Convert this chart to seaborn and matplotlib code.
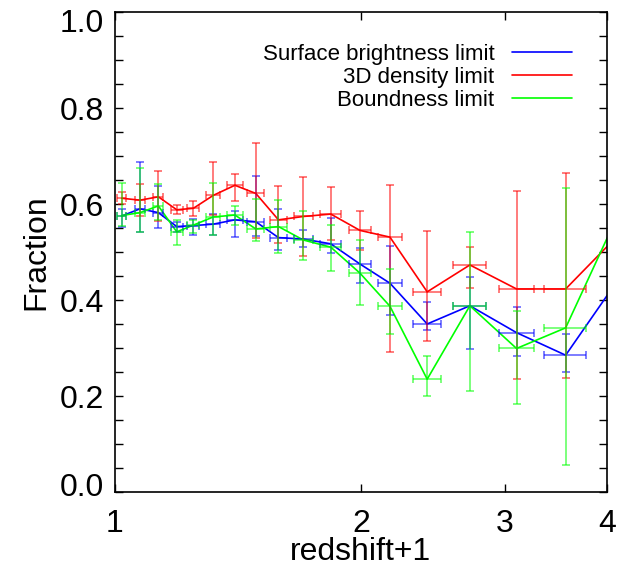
import numpy as np
import pandas as pd
import matplotlib
matplotlib.use("Agg")
import matplotlib.pyplot as plt
import matplotlib.transforms as mtransforms
from matplotlib.ticker import FixedLocator, NullLocator, MultipleLocator
import seaborn as sns

# ---- data ----
zplus1 = [1.019, 1.073, 1.130, 1.190, 1.247, 1.319, 1.402, 1.487, 1.585, 1.700,
          1.837, 1.994, 2.170, 2.410, 2.718, 3.100, 3.560, 4.300]
zplus1_err = [0.012, 0.015, 0.016, 0.020, 0.021, 0.026, 0.032, 0.035, 0.039, 0.046,
              0.053, 0.061, 0.073, 0.097, 0.123, 0.152, 0.206, 0.250]

sb_frac = [0.575, 0.590, 0.582, 0.553, 0.555, 0.558, 0.567, 0.563, 0.530, 0.527,
           0.517, 0.475, 0.435, 0.350, 0.388, 0.332, 0.285, 0.486]
sb_lo = [0.552, 0.541, 0.549, 0.542, 0.535, 0.535, 0.532, 0.533, 0.505, 0.511,
         0.497, 0.435, 0.369, 0.338, 0.297, 0.283, 0.251, 0.440]
sb_hi = [0.590, 0.688, 0.637, 0.563, 0.568, 0.580, 0.585, 0.658, 0.590, 0.546,
         0.570, 0.508, 0.513, 0.395, 0.447, 0.386, 0.330, 0.530]

d3_frac = [0.612, 0.608, 0.615, 0.588, 0.591, 0.618, 0.639, 0.622, 0.567, 0.574,
           0.579, 0.545, 0.531, 0.417, 0.473, 0.423, 0.423, 0.566]
d3_lo = [0.600, 0.574, 0.565, 0.580, 0.576, 0.577, 0.607, 0.530, 0.519, 0.492,
         0.524, 0.505, 0.292, 0.315, 0.424, 0.235, 0.238, 0.500]
d3_hi = [0.625, 0.642, 0.669, 0.598, 0.606, 0.687, 0.662, 0.727, 0.637, 0.656,
         0.635, 0.586, 0.640, 0.544, 0.510, 0.628, 0.665, 0.630]

bd_frac = [0.576, 0.582, 0.596, 0.542, 0.556, 0.573, 0.577, 0.548, 0.553, 0.525,
           0.510, 0.456, 0.387, 0.235, 0.388, 0.299, 0.342, 0.644]
bd_lo = [0.555, 0.541, 0.567, 0.515, 0.540, 0.535, 0.556, 0.522, 0.497, 0.483,
         0.461, 0.390, 0.329, 0.200, 0.211, 0.183, 0.056, 0.550]
bd_hi = [0.644, 0.676, 0.642, 0.567, 0.566, 0.643, 0.596, 0.610, 0.608, 0.586,
         0.556, 0.524, 0.465, 0.284, 0.541, 0.377, 0.633, 0.740]

series_names = ["Surface brightness limit", "3D density limit", "Boundness limit"]
series_colors = ["#0000ff", "#ff0000", "#00ff00"]
series_vals = [sb_frac, d3_frac, bd_frac]
series_lo = [sb_lo, d3_lo, bd_lo]
series_hi = [sb_hi, d3_hi, bd_hi]

x_ticks = [1, 2, 3, 4]
x_ticklabels = ["1", "2", "3", "4"]
y_ticks = [0, 0.2, 0.4, 0.6, 0.8, 1.0]
y_ticklabels = ["0.0", "0.2", "0.4", "0.6", "0.8", "1.0"]

rows = []
for name, vals in zip(series_names, series_vals):
    for xv, yv in zip(zplus1, vals):
        rows.append({"redshift+1": xv, "Fraction": yv, "series": name})
df = pd.DataFrame(rows)

# ---- style ----
sns.set_style("ticks")
plt.rcParams["font.family"] = ["Liberation Sans", "DejaVu Sans"]
plt.rcParams["text.color"] = "black"
plt.rcParams["axes.labelcolor"] = "black"
plt.rcParams["xtick.color"] = "black"
plt.rcParams["ytick.color"] = "black"

fig = plt.figure(figsize=(6.18, 5.73), dpi=100)
ax = fig.add_axes([115 / 618, 1 - 492 / 573, 492 / 618, 480 / 573])

sns.lineplot(data=df, x="redshift+1", y="Fraction", hue="series",
             hue_order=series_names, palette=series_colors,
             estimator=None, sort=False, linewidth=1.2, ax=ax)

for name, col, vals, lo, hi in zip(series_names, series_colors, series_vals,
                                   series_lo, series_hi):
    v = np.array(vals)
    yerr = np.vstack([v - np.array(lo), np.array(hi) - v])
    ax.errorbar(zplus1, v, yerr=yerr, xerr=zplus1_err, fmt="none",
                ecolor=col, elinewidth=1.2, capsize=3, capthick=1.2, alpha=0.6)

ax.set_xscale("log")
ax.set_xlim(1, 4)
ax.set_ylim(0, 1)
ax.xaxis.set_major_locator(FixedLocator(x_ticks))
ax.set_xticklabels(x_ticklabels)
ax.xaxis.set_minor_locator(NullLocator())
ax.yaxis.set_major_locator(FixedLocator(y_ticks))
ax.set_yticklabels(y_ticklabels)
ax.yaxis.set_minor_locator(MultipleLocator(0.05))

ax.tick_params(axis="both", which="both", direction="in", top=True, right=True,
               length=6, width=1, color="black", labelcolor="black")
ax.tick_params(axis="y", which="major", labelsize=23, pad=8)
ax.tick_params(axis="x", which="major", labelsize=23, pad=12)
for s in ax.spines.values():
    s.set_color("black")
    s.set_linewidth(1.2)

# edge labels sit slightly inside the axis range, as in the reference
yt = ax.yaxis.get_major_ticks()
down = mtransforms.ScaledTranslation(0, -8 / 100, fig.dpi_scale_trans)
up = mtransforms.ScaledTranslation(0, 7 / 100, fig.dpi_scale_trans)
yt[-1].label1.set_transform(yt[-1].label1.get_transform() + down)
yt[0].label1.set_transform(yt[0].label1.get_transform() + up)

ax.set_xlabel("redshift+1", fontsize=23, labelpad=-1, color="black")
ax.set_ylabel("Fraction", fontsize=23, labelpad=6, color="black")

handles, labels = ax.get_legend_handles_labels()
leg = ax.legend(handles, labels, loc="upper right", bbox_to_anchor=(0.929, 0.934),
                frameon=False, markerfirst=False, fontsize=16, handlelength=2.7,
                handletextpad=0.8, labelspacing=0.1, borderaxespad=0, borderpad=0)
for t in leg.get_texts():
    t.set_color("black")
for h in leg.get_lines():
    h.set_linewidth(1.2)

fig.savefig("out.png", dpi=100)
